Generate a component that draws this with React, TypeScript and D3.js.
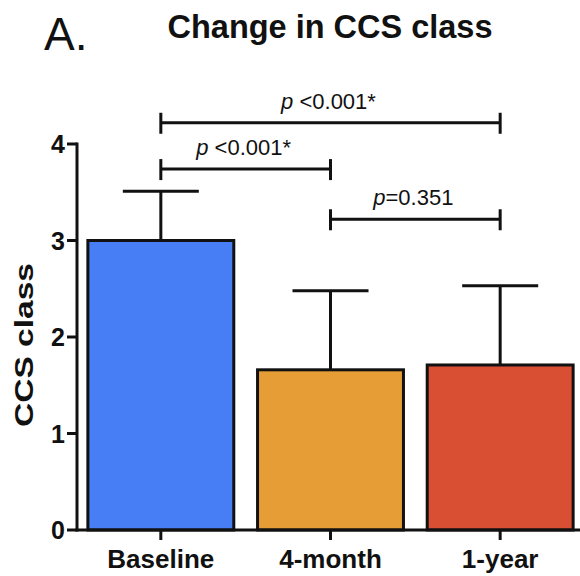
// Change in CCS class - bar chart with SD error bars and p-value brackets
import * as d3 from "d3";

// DATA
const categories = ["Baseline", "4-month", "1-year"];
const means = [3.0, 1.66, 1.71];
const sds = [0.51, 0.82, 0.82];
const barColors = ["#477ef6", "#e69d35", "#d94f33"];
const yTicks = [0, 1, 2, 3, 4];

// significance brackets: from / to category index, height in CCS units, label
const bracketFrom = [0, 0, 1];
const bracketTo = [2, 1, 2];
const bracketLevel = [4.22, 3.74, 3.22];
const bracketPrefix = ["p", "p", "p"];
const bracketText = [" <0.001*", " <0.001*", "=0.351"];

const FONT = "'Liberation Sans', Arial, Helvetica, sans-serif";

export default function App() {
  const width = 580;
  const height = 576;
  const axisX = 77;
  const axisY = 530;

  const x = d3.scaleBand<string>()
    .domain(categories)
    .range([76, 585])
    .paddingInner(0.14)
    .paddingOuter(0.07);
  const y = d3.scaleLinear([0, 4], [axisY, 144]);
  const cx = (i: number) => (x(categories[i]) as number) + x.bandwidth() / 2;
  const capHalf = 38;
  const stroke = 3;

  return (
    <svg width={width} height={height} style={{position: "absolute", left: 0, top: 0}} fontFamily={FONT}>
      <rect width={width} height={height} fill="#fff" />

      {/* heading */}
      <text x={44} y={50} fontSize={46} fill="#111">A.</text>
      <text x={330} y={38} fontSize={33} fontWeight="bold" textAnchor="middle" textLength={325} lengthAdjust="spacingAndGlyphs" fill="#111">
        Change in CCS class
      </text>

      {/* bars */}
      {categories.map((c, i) => (
        <rect key={c} x={x(c)} y={y(means[i])} width={x.bandwidth()} height={axisY - y(means[i])}
          fill={barColors[i]} stroke="#111" strokeWidth={stroke} />
      ))}

      {/* error bars (upper only) */}
      {categories.map((c, i) => (
        <g key={c} stroke="#111" strokeWidth={stroke}>
          <line x1={cx(i)} x2={cx(i)} y1={y(means[i])} y2={y(means[i] + sds[i])} />
          <line x1={cx(i) - capHalf} x2={cx(i) + capHalf} y1={y(means[i] + sds[i])} y2={y(means[i] + sds[i])} />
        </g>
      ))}

      {/* y axis */}
      <g stroke="#111" strokeWidth={stroke}>
        <line x1={axisX} x2={axisX} y1={y(4) - 1.5} y2={axisY + 1.5} />
        {yTicks.map(t => (
          <line key={t} x1={axisX - 10} x2={axisX} y1={y(t)} y2={y(t)} />
        ))}
      </g>
      {yTicks.map(t => (
        <text key={t} x={65} y={y(t) + 9} fontSize={25} fontWeight="bold" textAnchor="end" fill="#111">{t}</text>
      ))}
      <text transform={`translate(33,345) rotate(-90)`} fontSize={25} fontWeight="bold" textAnchor="middle"
        textLength={164} lengthAdjust="spacingAndGlyphs" fill="#111">CCS class</text>

      {/* x axis */}
      <g stroke="#111" strokeWidth={stroke}>
        <line x1={axisX - 1.5} x2={width} y1={axisY} y2={axisY} />
        {categories.map((c, i) => (
          <line key={c} x1={cx(i)} x2={cx(i)} y1={axisY} y2={axisY + 10} />
        ))}
      </g>
      {categories.map((c, i) => (
        <text key={c} x={cx(i)} y={568} fontSize={26} fontWeight="bold" textAnchor="middle" fill="#111">{c}</text>
      ))}

      {/* significance brackets */}
      {bracketLevel.map((lv, k) => {
        const x1 = cx(bracketFrom[k]);
        const x2 = cx(bracketTo[k]);
        const yy = y(lv);
        return (
          <g key={k}>
            <g stroke="#111" strokeWidth={stroke}>
              <line x1={x1} x2={x2} y1={yy} y2={yy} />
              <line x1={x1} x2={x1} y1={yy - 10} y2={yy + 11} />
              <line x1={x2} x2={x2} y1={yy - 10} y2={yy + 11} />
            </g>
            <text x={(x1 + x2) / 2 - 2} y={yy - 14} fontSize={22} textAnchor="middle" fill="#111">
              <tspan fontStyle="italic">{bracketPrefix[k]}</tspan>{bracketText[k]}
            </text>
          </g>
        );
      })}
    </svg>
  );
}
